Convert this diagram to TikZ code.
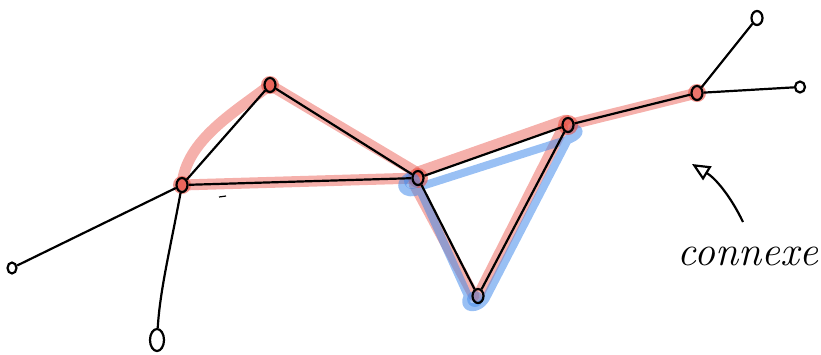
\documentclass[tikz,border=0pt]{standalone}
\usetikzlibrary{arrows.meta,shapes.geometric}
\definecolor{hred}{RGB}{232,80,68}
\definecolor{hblue}{RGB}{70,140,235}
\tikzset{
  vtx/.style={draw=black, line width=2.2pt, shape=ellipse, inner sep=0pt, minimum width=11pt, minimum height=14pt},
  edge/.style={draw=black, line width=2.2pt},
  redhl/.style={draw=hred, line width=11pt, opacity=0.45, line cap=round, line join=round},
  bluehl/.style={draw=hblue, line width=8pt, opacity=0.55, line cap=round, line join=round},
  blob/.style={fill=hred, opacity=0.6},
}
\begin{document}
\begin{tikzpicture}[x=1pt,y=-1pt]
\useasboundingbox (0,0) rectangle (821,354);
% coordinates
\coordinate (a) at (270,85);
\coordinate (b) at (182,185);
\coordinate (c) at (418,178);
\coordinate (d) at (568,125);
\coordinate (e) at (697,93);
\coordinate (h) at (478,296);
% red highlights
\draw[redhl] (b) .. controls (186,140) and (235,112) .. (a);
\draw[redhl] (a) -- (416,172);
\draw[redhl] (b) -- (c);
\draw[redhl] (418,172) -- (566,120);
\draw[redhl] (d) -- (e);
\draw[redhl] (414,184) -- (474,296);
\draw[redhl] (h) -- (563,128);
% blue highlights
\draw[bluehl] (422,186) -- (560,142) .. controls (575,140) and (585,130) .. (574,128)
  -- (487,296) .. controls (480,312) and (460,310) .. (468,296) -- (420,190)
  .. controls (405,198) and (394,184) .. (410,176);
% blobs
\fill[blob] (a) circle (9);
\fill[blob] (b) circle (9);
\fill[blob] (c) circle (10);
\fill[blob] (d) circle (10);
\fill[blob] (e) circle (9);
\fill[hblue, opacity=0.55] (412,181) circle (8);
\fill[hblue, opacity=0.5] (475,299) circle (8);
% nodes
\node[vtx] (A) at (a) {};
\node[vtx] (B) at (b) {};
\node[vtx] (C) at (c) {};
\node[vtx] (D) at (d) {};
\node[vtx] (E) at (e) {};
\node[vtx] (F) at (757,18) {};
\node[vtx, minimum width=10pt, minimum height=11pt] (G) at (800,87) {};
\node[vtx, minimum width=9pt, minimum height=11pt] (I) at (12,268) {};
\node[vtx, minimum width=14pt, minimum height=22pt] (J) at (157,340) {};
\node[vtx] (H) at (h) {};
% edges
\draw[edge] (B) -- (A);
\draw[edge] (A) -- (C);
\draw[edge] (B) -- (C);
\draw[edge] (C) -- (D);
\draw[edge] (D) -- (E);
\draw[edge] (E) -- (F);
\draw[edge] (E) -- (G);
\draw[edge] (C) -- (H);
\draw[edge] (H) -- (D);
\draw[edge] (B) -- (I);
\draw[edge] (B) .. controls (170,250) and (160,290) .. (J);
\draw[line width=1.2pt] (219,197) -- (226,196);
% annotation
\node[font=\fontsize{42}{42}\selectfont\itshape, anchor=center] (T) at (748,256) {connexe};
\coordinate (tip) at (692,164);
\draw[line width=2.2pt, -{Triangle[open, length=18pt, width=16pt, line width=2.2pt]}] (743,222) .. controls (730,195) and (715,178) .. (tip);
\end{tikzpicture}
\end{document}
